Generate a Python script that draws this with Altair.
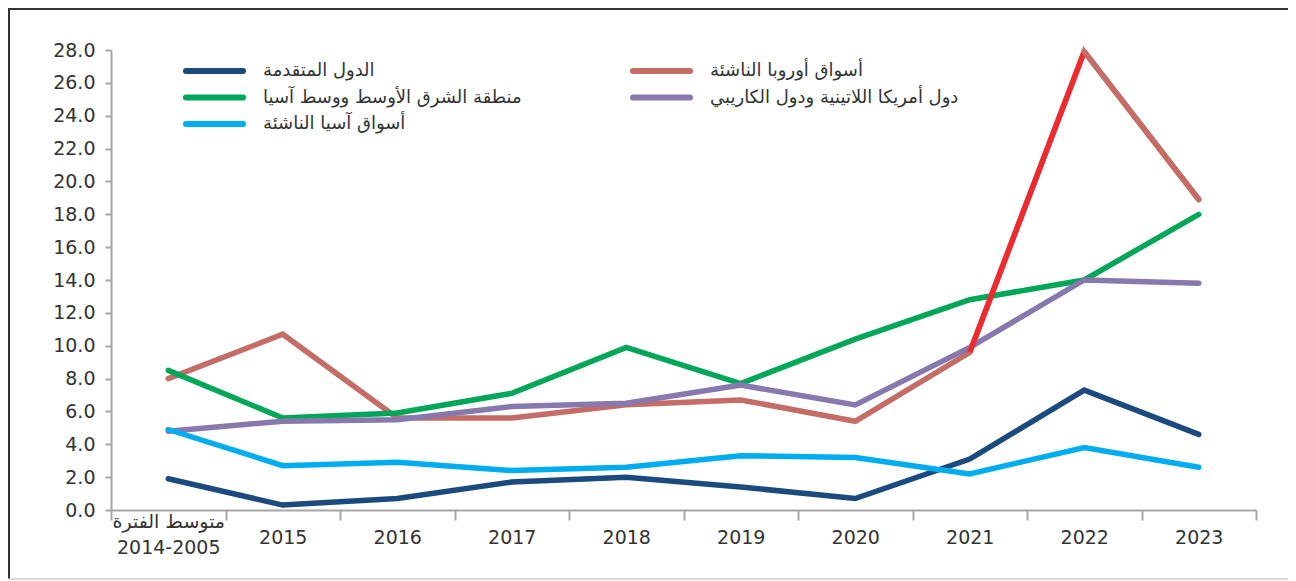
import altair as alt
import pandas as pd

# ---------------- data ----------------
categories = ["متوسط الفترة|2014-2005", "2015", "2016", "2017", "2018",
              "2019", "2020", "2021", "2022", "2023"]

series_names = [
    "الدول المتقدمة",
    "أسواق أوروبا الناشئة",
    "منطقة الشرق الأوسط ووسط آسيا",
    "دول أمريكا اللاتينية ودول الكاريبي",
    "أسواق آسيا الناشئة",
]
series_colors = ["#1A4A7E", "#C46C65", "#00A758", "#8778AE", "#00AEEF"]

advanced = [1.9, 0.3, 0.7, 1.7, 2.0, 1.4, 0.7, 3.1, 7.3, 4.6]
emerging_europe = [8.0, 10.7, 5.6, 5.6, 6.4, 6.7, 5.4, 9.6, 27.9, 18.9]
mena_ca = [8.5, 5.6, 5.9, 7.1, 9.9, 7.7, 10.4, 12.8, 14.0, 18.0]
latam = [4.8, 5.4, 5.5, 6.3, 6.5, 7.6, 6.4, 9.9, 14.0, 13.8]
emerging_asia = [4.9, 2.7, 2.9, 2.4, 2.6, 3.3, 3.2, 2.2, 3.8, 2.6]

y_ticks = [0, 2, 4, 6, 8, 10, 12, 14, 16, 18, 20, 22, 24, 26, 28]

highlight_years = ["2021", "2022"]   # segment drawn in bright red

# drawing order (bottom -> top)
draw_order = [
    (series_names[1], emerging_europe),
    (series_names[0], advanced),
    (series_names[2], mena_ca),
    (series_names[3], latam),
    (series_names[4], emerging_asia),
]

rows = []
for name, vals in draw_order:
    for c, v in zip(categories, vals):
        rows.append({"cat": c, "value": v, "series": name})
df = pd.DataFrame(rows)

df_red = df[(df["series"] == series_names[1]) & (df["cat"].isin(highlight_years))]
df_europe_tail = df[(df["series"] == series_names[1]) & (df["cat"].isin(["2022", "2023"]))]

# legend layout (two columns, row-wise), pixel positions inside the plot area
LEG_X0, LEG_COL_W, LEG_Y0, LEG_ROW_H, LEG_SAMPLE, LEG_TEXT_GAP = 75, 447, 21, 26.5, 57, 77
leg_rows = []
for i, name in enumerate(series_names):
    col, row = i % 2, i // 2
    x0 = LEG_X0 + col * LEG_COL_W
    leg_rows.append({"series": name, "lx0": x0, "lx1": x0 + LEG_SAMPLE,
                     "ltx": x0 + LEG_TEXT_GAP, "ly": LEG_Y0 + row * LEG_ROW_H})
leg_df = pd.DataFrame(leg_rows)

FONT_NUM = "DejaVu Sans"
FONT_AR = "DejaVu Sans"

color_scale = alt.Scale(domain=series_names, range=series_colors)
x_scale = alt.Scale(type="band", paddingInner=0, paddingOuter=0)
y_scale = alt.Scale(domain=[0, 28], nice=False, zero=True)

x_axis = alt.Axis(
    title=None,
    labelExpr="split(datum.label, '|')",
    labelAngle=0,
    labelFont=FONT_NUM,
    labelFontSize=19,
    labelColor="#333333",
    labelBaseline="middle",
    labelPadding={"condition": {"test": "datum.index == 0", "value": 1}, "value": 17},
    labelLineHeight=26,
    labelOverlap=False,
    tickBand="extent",
    tickSize=10,
    tickColor="#A6A6A6",
    tickWidth=2,
    domainColor="#A6A6A6",
    domainWidth=2,
    grid=False,
)

y_axis = alt.Axis(
    title=None,
    values=y_ticks,
    tickCount=15,
    format=".1f",
    labelFont=FONT_NUM,
    labelFontSize=19,
    labelColor="#333333",
    labelPadding=10,
    labelOverlap=False,
    labelBound=False,
    tickSize=6,
    tickColor="#A6A6A6",
    tickWidth=2,
    domainColor="#A6A6A6",
    domainWidth=2,
    grid=False,
)

lines = alt.Chart(df).mark_line(strokeWidth=5.5, strokeCap="round", strokeJoin="miter").encode(
    x=alt.X("cat:N", sort=categories, bandPosition=0.5, scale=x_scale, axis=x_axis),
    y=alt.Y("value:Q", scale=y_scale, axis=y_axis),
    color=alt.Color("series:N", scale=color_scale, legend=None),
    detail="series:N",
)

red_seg = alt.Chart(df_red).mark_line(strokeWidth=5.5, strokeCap="butt", color="#EE2A2F").encode(
    x=alt.X("cat:N", sort=categories, bandPosition=0.5, scale=x_scale, axis=x_axis),
    y=alt.Y("value:Q", scale=y_scale, axis=y_axis),
)

# the falling 2022-2023 segment sits above the red one at the peak
europe_tail = alt.Chart(df_europe_tail).mark_line(strokeWidth=5.5, strokeCap="round", color=series_colors[1]).encode(
    x=alt.X("cat:N", sort=categories, bandPosition=0.5, scale=x_scale, axis=x_axis),
    y=alt.Y("value:Q", scale=y_scale, axis=y_axis),
)

leg_lines = alt.Chart(leg_df).mark_rule(strokeWidth=6, strokeCap="round").encode(
    x=alt.X("lx0:Q", scale=None),
    x2="lx1:Q",
    y=alt.Y("ly:Q", scale=None),
    color=alt.Color("series:N", scale=color_scale, legend=None),
)
leg_text = alt.Chart(leg_df).mark_text(
    align="left", baseline="middle", font=FONT_AR, fontSize=18, color="#333333"
).encode(
    x=alt.X("ltx:Q", scale=None),
    y=alt.Y("ly:Q", scale=None),
    text="series:N",
)

one = alt.Data(values=[{}])
frame_top = alt.Chart(one).mark_rule(color="#333333", strokeWidth=2).encode(
    x=alt.value(-103), x2=alt.value(1190), y=alt.value(-41))
frame_left = alt.Chart(one).mark_rule(color="#333333", strokeWidth=2).encode(
    x=alt.value(-102), y=alt.value(-42), y2=alt.value(529))
frame_bottom = alt.Chart(one).mark_rule(color="#CCCCCC", strokeWidth=1.5).encode(
    x=alt.value(-103), x2=alt.value(1190), y=alt.value(529))

chart = alt.layer(lines, red_seg, europe_tail, leg_lines, leg_text,
                  frame_top, frame_left, frame_bottom).properties(
    width=1145,
    height=460,
    background="white",
    autosize=alt.AutoSizeParams(type="none"),
    padding={"left": 103, "top": 42, "right": 32, "bottom": 70},
).configure_view(stroke=None).configure_axis(labelOverlap=False)

chart.save("out.html", embed_options={"renderer": "svg", "actions": False})
